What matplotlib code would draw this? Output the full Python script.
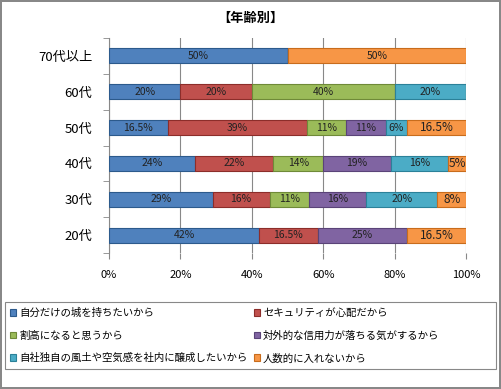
import matplotlib.pyplot as plt
from matplotlib.patches import Rectangle

plt.rcParams['font.family'] = ['Noto Sans CJK JP', 'DejaVu Sans']

# 年齢別データ (下から上へ)
ages = ['20代', '30代', '40代', '50代', '60代', '70代以上']
series_names = ['自分だけの城を持ちたいから', 'セキュリティが心配だから', '割高になると思うから',
                '対外的な信用力が落ちる気がするから', '自社独自の風土や空気感を社内に醸成したいから',
                '人数的に入れないから']
own_castle = [42, 29, 24, 16.5, 20, 50]
security = [16.5, 16, 22, 39, 20, 0]
expensive = [0, 11, 14, 11, 40, 0]
credibility = [25, 16, 19, 11, 0, 0]
culture = [0, 20, 16, 6, 20, 0]
headcount = [16.5, 8, 5, 16.5, 0, 50]
values = [own_castle, security, expensive, credibility, culture, headcount]
colors = ['#4F81BD', '#C0504D', '#9BBB59', '#8064A2', '#4BACC6', '#F79646']
edges = ['#2c5a8c', '#8c2d2a', '#6f8a38', '#5a4378', '#2b8199', '#c86c1c']
xticks = [0, 20, 40, 60, 80, 100]

fig = plt.figure(figsize=(5.01, 3.89), dpi=100)
fig.patch.set_edgecolor('#888888')
fig.patch.set_linewidth(1.5)
ax = fig.add_axes([109 / 501, 1 - 253 / 389, 357 / 501, 215 / 389])

ypos = list(range(len(ages)))
left = [0] * len(ages)
handles = []
for vals, name, c, ec in zip(values, series_names, colors, edges):
    bars = ax.barh(ypos, vals, left=left, height=0.42, color=c, edgecolor=ec,
                   linewidth=0.8, label=name, zorder=3)
    handles.append(bars)
    for y, v, l in zip(ypos, vals, left):
        if v > 0:
            txt = ('%g' % v) + '%'
            big = c == '#F79646' and v < 20
            ax.text(l + v / 2, y, txt, ha='center', va='center',
                    fontsize=8.5 if big else 7.5, color='#222222', zorder=4)
    left = [a + b for a, b in zip(left, vals)]

ax.set_xlim(0, 100)
ax.set_ylim(-0.5, len(ages) - 0.5)
ax.set_xticks(xticks)
ax.set_xticklabels([f'{t}%' for t in xticks], fontsize=8)
ax.set_yticks(ypos)
ax.set_yticklabels(ages, fontsize=9.5)
ax.set_yticks([i - 0.5 for i in range(len(ages) + 1)], minor=True)
ax.tick_params(axis='y', which='major', length=0, pad=12)
ax.tick_params(axis='y', which='minor', length=4, color='#888888')
ax.tick_params(axis='x', length=4, color='#888888', pad=8)
ax.grid(axis='x', color='#888888', linewidth=0.8, zorder=0)
for s in ['top', 'right', 'bottom']:
    ax.spines[s].set_visible(False)
ax.spines['left'].set_color('#888888')

fig.text(0.5, 1 - 18 / 389, '【年齢別】', ha='center', va='center',
         fontsize=9.5, fontweight='bold')

# 凡例の枠
fig.add_artist(Rectangle((5 / 501, 1 - 369 / 389), 491 / 501, 67 / 389,
                         transform=fig.transFigure, fill=False,
                         edgecolor='#888888', linewidth=0.8))
order = [0, 2, 4, 1, 3, 5]
leg = fig.legend([handles[i] for i in order], [series_names[i] for i in order],
                 ncol=2, loc='upper left', bbox_to_anchor=(1 / 501, 1 - 299 / 389),
                 fontsize=7.5, frameon=False, handlelength=0.6,
                 handleheight=0.6, handletextpad=0.3, columnspacing=0.6,
                 labelspacing=1.2, borderpad=0.35)

fig.savefig('out.png', dpi=100)
